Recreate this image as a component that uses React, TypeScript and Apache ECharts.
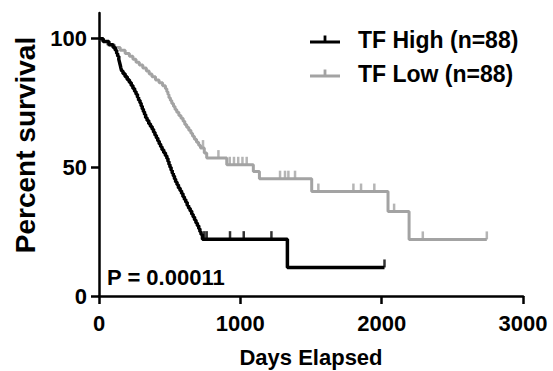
import React, { useEffect, useRef } from "react";
import * as echarts from "echarts";

// ---- Data ----
const highName = "TF High (n=88)";
const lowName = "TF Low (n=88)";

// TF High: event times (days) and survival (%) after each step
const highTimes = [0, 30, 70, 100, 115, 125, 132, 140, 145, 150, 155, 160, 170, 185, 200, 215, 228, 240, 252, 262, 272, 280, 290, 298, 306, 314, 322, 330, 340, 352, 364, 376, 386, 396, 406, 416, 426, 436, 446, 458, 470, 480, 488, 495, 502, 510, 518, 526, 534, 542, 552, 562, 574, 584, 594, 604, 614, 624, 634, 645, 656, 666, 676, 686, 696, 706, 714, 722, 732, 1333];
const highSurv = [100, 98.9, 97.7, 96.6, 95.5, 94.3, 93.2, 92.0, 90.9, 89.8, 88.6, 87.5, 86.4, 85.2, 84.1, 83.0, 81.8, 80.7, 79.5, 78.4, 77.3, 76.1, 75.0, 73.9, 72.7, 71.6, 70.5, 69.3, 68.2, 67.0, 65.9, 64.8, 63.6, 62.5, 61.4, 60.2, 59.1, 58.0, 56.8, 55.7, 54.5, 53.4, 52.3, 51.1, 50.0, 48.9, 47.7, 46.6, 45.5, 44.3, 43.2, 42.0, 40.9, 39.8, 38.6, 37.5, 36.4, 35.2, 34.1, 33.0, 31.8, 30.7, 29.5, 28.4, 27.3, 26.1, 25.0, 23.9, 22.1, 11.1];
const highCensor = [745, 762, 927, 1024, 1220, 2020];
const highEnd = 2020;

// TF Low
const lowTimes = [0, 25, 60, 110, 150, 185, 215, 240, 262, 285, 310, 335, 355, 375, 400, 425, 450, 470, 480, 488, 495, 505, 515, 527, 538, 550, 565, 580, 595, 607, 620, 635, 650, 662, 675, 690, 705, 718, 745, 762, 904, 1092, 1135, 1505, 2045, 2194];
const lowSurv = [100, 98.9, 97.7, 96.6, 95.5, 94.3, 93.2, 92.0, 90.9, 89.8, 88.6, 87.5, 86.3, 85.2, 84.0, 82.9, 81.7, 80.6, 79.4, 78.3, 77.1, 76.0, 74.8, 73.7, 72.5, 71.4, 70.2, 69.1, 67.9, 66.7, 65.6, 64.4, 63.3, 62.1, 60.9, 59.8, 58.6, 57.5, 55.6, 53.6, 51.0, 48.4, 45.6, 40.6, 32.8, 22.0];
const lowCensor = [736, 845, 925, 955, 985, 1015, 1045, 1281, 1316, 1340, 1387, 1552, 1800, 1854, 1948, 2088, 2291, 2744];
const lowEnd = 2744;

const xTicks = [0, 1000, 2000, 3000];
const yTicks = [0, 50, 100];
const pValueText = "P = 0.00011";

const FONT = "'Liberation Sans', Arial, Helvetica, sans-serif";
const HIGH_COLOR = "#000000";
const LOW_COLOR = "#a3a3a3";

function stepData(times: number[], surv: number[], end: number) {
  const pts: number[][] = times.map((t, i) => [t, surv[i]]);
  pts.push([end, surv[surv.length - 1]]);
  return pts;
}
function survAt(times: number[], surv: number[], t: number) {
  let s = surv[0];
  for (let i = 0; i < times.length; i++) if (times[i] <= t) s = surv[i];
  return s;
}

const legendIcon = "path://M0,5L30,5L30,8L0,8Z M13.6,0L16.4,0L16.4,5L13.6,5Z";

export default function App() {
  const ref = useRef<HTMLDivElement>(null);
  useEffect(() => {
    document.body.style.margin = "0";
    const chart = echarts.init(ref.current!, null, { renderer: "svg" });
    const option: any = {
      animation: false,
      backgroundColor: "#ffffff",
      textStyle: { fontFamily: FONT },
      grid: { left: 99, right: 30, top: 13, bottom: 75, containLabel: false, outerBoundsMode: "none" },
      legend: {
        data: [highName, lowName],
        orient: "vertical",
        left: 305,
        top: 23,
        itemWidth: 30,
        itemHeight: 8,
        itemGap: 11,
        icon: legendIcon,
        textStyle: { fontSize: 23, fontWeight: "bold", color: "#000", fontFamily: FONT, padding: [0, 0, 0, 13], lineHeight: 23 },
      },
      xAxis: {
        type: "value",
        min: 0,
        max: 3000,
        interval: 1000,
        name: "Days Elapsed",
        nameLocation: "middle",
        nameGap: 50,
        nameTextStyle: { fontSize: 22, fontWeight: "bold", color: "#000", fontFamily: FONT },
        axisLine: { show: true, lineStyle: { color: "#000", width: 2.5 } },
        axisTick: { show: true, length: 8, lineStyle: { color: "#000", width: 2.5 }, customValues: xTicks },
        axisLabel: {
          fontSize: 22,
          fontWeight: "bold",
          color: "#000",
          margin: 16,
          fontFamily: FONT,
          customValues: xTicks,
          formatter: (v: number) => String(v),
        },
        splitLine: { show: false },
      },
      yAxis: {
        type: "value",
        min: 0,
        max: 110,
        interval: 50,
        axisLine: { show: true, lineStyle: { color: "#000", width: 2.5 } },
        axisTick: { show: true, length: 8, lineStyle: { color: "#000", width: 2.5 }, customValues: yTicks },
        axisLabel: {
          fontSize: 22,
          fontWeight: "bold",
          color: "#000",
          margin: 12,
          fontFamily: FONT,
          customValues: yTicks,
          formatter: (v: number) => String(v),
        },
        splitLine: { show: false },
      },
      graphic: [
        {
          type: "text",
          x: 25,
          y: 145,
          rotation: Math.PI / 2,
          style: {
            text: "Percent survival",
            fontSize: 28,
            fontWeight: "bold",
            fontFamily: FONT,
            fill: "#000",
            align: "center",
            verticalAlign: "middle",
          },
        },
        {
          type: "text",
          x: 107,
          y: 277,
          style: {
            text: pValueText,
            fontSize: 22,
            fontWeight: "bold",
            fontFamily: FONT,
            fill: "#000",
            align: "left",
            verticalAlign: "middle",
          },
        },
      ],
      series: [
        {
          name: lowName,
          type: "line",
          step: "end",
          showSymbol: false,
          symbol: "none",
          color: LOW_COLOR,
          lineStyle: { color: LOW_COLOR, width: 3 },
          data: stepData(lowTimes, lowSurv, lowEnd),
          z: 2,
        },
        {
          name: lowName + " censored",
          type: "scatter",
          symbol: "rect",
          symbolSize: [2.5, 8],
          symbolOffset: [0, -4],
          itemStyle: { color: LOW_COLOR },
          data: lowCensor.map((t) => [t, survAt(lowTimes, lowSurv, t)]),
          z: 2,
        },
        {
          name: highName,
          type: "line",
          step: "end",
          showSymbol: false,
          symbol: "none",
          color: HIGH_COLOR,
          lineStyle: { color: HIGH_COLOR, width: 3.5 },
          data: stepData(highTimes, highSurv, highEnd),
          z: 3,
        },
        {
          name: highName + " censored",
          type: "scatter",
          symbol: "rect",
          symbolSize: [2.5, 8],
          symbolOffset: [0, -4],
          itemStyle: { color: HIGH_COLOR },
          data: highCensor.map((t) => [t, survAt(highTimes, highSurv, t)]),
          z: 3,
        },
      ],
    };
    chart.setOption(option);
    return () => chart.dispose();
  }, []);
  return (
    <div
      ref={ref}
      style={{ position: "absolute", left: 0, top: 0, width: 553, height: 371, background: "#fff" }}
    />
  );
}
